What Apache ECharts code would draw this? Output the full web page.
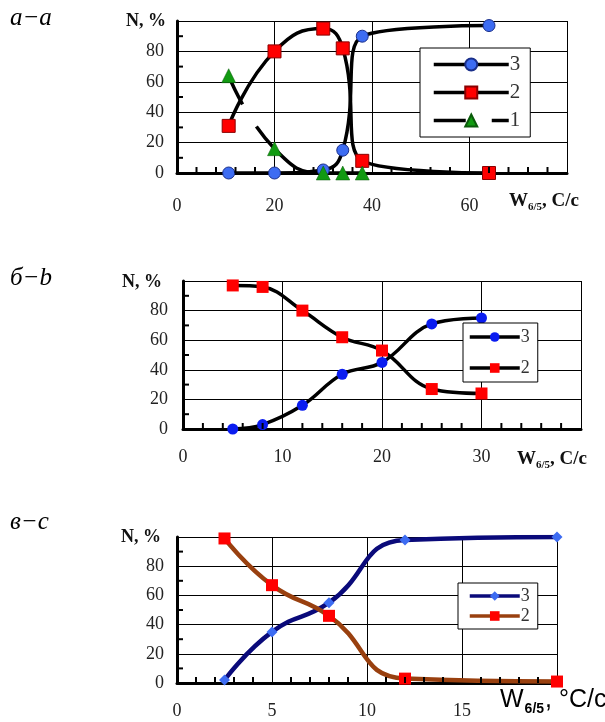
<!DOCTYPE html>
<html>
<head>
<meta charset="utf-8">
<script src="https://cdn.jsdelivr.net/npm/echarts@6/dist/echarts.min.js"></script>
<style>
html, body { margin: 0; padding: 0; background: #fff; }
#chart { width: 605px; height: 722px; }
</style>
</head>
<body>
<div id="chart"></div>
<script>
// panel a (а−a)
var aX = [10.6, 20, 30, 34, 38, 64]
var aY3 = [0, 0, 2, 15, 90, 97]
var aY2 = [31, 80, 95, 82, 8, 0]
var aX1 = [10.6, 20, 30, 34, 38]
var aY1 = [64, 16, 0, 0, 0]
// panel b (б−b)
var bX = [5, 8, 12, 16, 20, 25, 30]
var bY3 = [0, 3, 16, 37, 45, 71, 75]
var bY2 = [97, 96, 80, 62, 53, 27, 24]
// panel c (в−c)
var cX = [2.5, 5, 8, 12, 20]
var cY3 = [2, 35, 55, 98, 100]
var cY2 = [99, 67, 46, 3, 1]
// small inner tick positions
var aTickX = [4, 8, 12, 16, 24, 28, 32, 36, 44, 48, 52, 56, 64, 68, 72, 76]
var bTickX = [2, 4, 6, 8, 12, 14, 16, 18, 22, 24, 26, 28, 32, 34, 36, 38]
var cTickX = [1, 2, 3, 4, 6, 7, 8, 9, 11, 12, 13, 14, 16, 17, 18, 19]
var tickY = [10, 30, 50, 70, 90]

var SERIF = '"Liberation Serif", "DejaVu Serif", serif'

function zip (xs, ys) {
  var out = []
  for (var i = 0; i < ys.length; i++) out.push([xs[i], ys[i]])
  return out
}

function xAxisOf (idx, max, interval, margin) {
  return {
    type: 'value', gridIndex: idx, min: 0, max: max, interval: interval,
    axisLine: { show: true, onZero: false, lineStyle: { color: '#000', width: 3 } },
    axisTick: { show: false },
    splitLine: { show: true, lineStyle: { color: '#000', width: 1 } },
    axisLabel: { margin: margin, showMaxLabel: false, color: '#222', fontFamily: SERIF, fontSize: 18 }
  }
}

function yAxisOf (idx, margin) {
  return {
    type: 'value', gridIndex: idx, min: 0, max: 100, interval: 20,
    axisLine: { show: true, onZero: false, lineStyle: { color: '#000', width: 3 } },
    axisTick: { show: false },
    splitLine: { show: true, lineStyle: { color: '#000', width: 1 } },
    axisLabel: { margin: margin, showMaxLabel: false, color: '#222', fontFamily: SERIF, fontSize: 18 }
  }
}

// short inner ticks drawn through the axis scales
function tickSeries (idx, xTicks, yTicks) {
  var data = []
  xTicks.forEach(function (v) { data.push([v, 0, 0]) })
  yTicks.forEach(function (v) { data.push([0, v, 1]) })
  return {
    type: 'custom', xAxisIndex: idx, yAxisIndex: idx, silent: true, z: 5,
    clip: false, data: data,
    encode: { x: 0, y: 1 },
    renderItem: function (params, api) {
      var p = api.coord([api.value(0), api.value(1)])
      var vertical = api.value(2) === 0
      return {
        type: 'line',
        shape: vertical
          ? { x1: p[0], y1: p[1], x2: p[0], y2: p[1] - 6 }
          : { x1: p[0], y1: p[1], x2: p[0] + 6, y2: p[1] },
        style: { stroke: '#000', lineWidth: 2 }
      }
    }
  }
}

function legendOf (names, left, top, itemWidth, itemHeight, gap, padding, fontSize) {
  return {
    orient: 'vertical', left: left, top: top, data: names,
    itemWidth: itemWidth, itemHeight: itemHeight, itemGap: gap, padding: padding,
    borderColor: '#000', borderWidth: 1, borderRadius: 0, backgroundColor: '#fff',
    selectedMode: false,
    lineStyle: { width: 3.5 },
    formatter: function (name) { return name.slice(1) },
    textStyle: { fontFamily: SERIF, fontSize: fontSize, color: '#333', padding: [0, 0, 0, -4] }
  }
}

function axisName (left, top, sans) {
  if (sans) {
    return {
      type: 'text', left: left, top: top,
      style: {
        text: '{w|W}{s|6/5}{w|, °C/c}',
        rich: {
          w: { font: '25px "Liberation Sans", Arial, sans-serif', fill: '#000', verticalAlign: 'bottom' },
          s: { font: 'bold 14px "Liberation Sans", Arial, sans-serif', fill: '#000', verticalAlign: 'bottom', padding: [0, 1, -3, 1] }
        }
      }
    }
  }
  return {
    type: 'text', left: left, top: top,
    style: {
      text: '{w|W}{s|6/5}{w|, C/c}',
      rich: {
        w: { font: 'bold 19px ' + SERIF, fill: '#111', verticalAlign: 'bottom' },
        s: { font: 'bold 11px ' + SERIF, fill: '#111', verticalAlign: 'bottom', padding: [0, 0, -2, 0] }
      }
    }
  }
}

var chart = echarts.init(document.getElementById('chart'), null, { renderer: 'canvas' })
chart.setOption({
  animation: false,
  backgroundColor: '#fff',
  grid: [
    { left: 177, top: 21, width: 390, height: 152 },
    { left: 183, top: 281, width: 398, height: 148 },
    { left: 177, top: 537, width: 380, height: 146 }
  ],
  xAxis: [
    xAxisOf(0, 80, 20, 24),
    xAxisOf(1, 40, 10, 19),
    xAxisOf(2, 20, 5, 19)
  ],
  yAxis: [yAxisOf(0, 13), yAxisOf(1, 15), yAxisOf(2, 13)],
  legend: [
    legendOf(['a3', 'a2', 'a1'], 420, 48, 75, 15, 7, [6, 10, 6, 12], 21),
    legendOf(['b3', 'b2'], 463, 323, 50, 12, 13, [5, 8, 5, 5], 18),
    legendOf(['c3', 'c2'], 458, 583, 50, 12, 2, [4, 8, 4, 10], 18)
  ],
  graphic: [
    { type: 'text', left: 10, top: 6, style: { text: 'а−a', font: 'italic 25px ' + SERIF, fill: '#000' } },
    { type: 'text', left: 10, top: 266, style: { text: 'б−b', font: 'italic 25px ' + SERIF, fill: '#000' } },
    { type: 'text', left: 10, top: 510, style: { text: 'в−c', font: 'italic 25px ' + SERIF, fill: '#000' } },
    { type: 'text', left: 126, top: 12, style: { text: 'N, %', font: 'bold 18px ' + SERIF, fill: '#111' } },
    { type: 'text', left: 122, top: 273, style: { text: 'N, %', font: 'bold 18px ' + SERIF, fill: '#111' } },
    { type: 'text', left: 121, top: 528, style: { text: 'N, %', font: 'bold 18px ' + SERIF, fill: '#111' } },
    axisName(509, 192, false),
    axisName(517, 450, false),
    axisName(500, 688, true)
  ],
  series: [
    tickSeries(0, aTickX, tickY),
    tickSeries(1, bTickX, tickY),
    tickSeries(2, cTickX, tickY),
    {
      name: 'a3', type: 'line', xAxisIndex: 0, yAxisIndex: 0, smooth: 0.5,
      data: zip(aX, aY3), symbol: 'circle', symbolSize: 12,
      lineStyle: { color: '#000', width: 3.5 },
      itemStyle: { color: '#3d6cf2', borderColor: '#1a2f8a', borderWidth: 1 }
    },
    {
      name: 'a2', type: 'line', xAxisIndex: 0, yAxisIndex: 0, smooth: 0.5,
      data: zip(aX, aY2), symbol: 'rect', symbolSize: 13,
      lineStyle: { color: '#000', width: 3.5 },
      itemStyle: { color: '#f00', borderColor: '#8a0000', borderWidth: 1 }
    },
    {
      name: 'a1', type: 'line', xAxisIndex: 0, yAxisIndex: 0, smooth: 0.5,
      data: zip(aX1, aY1), symbol: 'triangle', symbolSize: 14,
      lineStyle: { color: '#000', width: 3.5, type: [32, 26, 300, 10] },
      itemStyle: { color: '#119a11', borderColor: '#0a5a0a', borderWidth: 0.5 }
    },
    {
      name: 'b3', type: 'line', xAxisIndex: 1, yAxisIndex: 1, smooth: 0.4,
      data: zip(bX, bY3), symbol: 'circle', symbolSize: 11,
      lineStyle: { color: '#000', width: 3.5 },
      itemStyle: { color: '#0a1cf0' }
    },
    {
      name: 'b2', type: 'line', xAxisIndex: 1, yAxisIndex: 1, smooth: 0.4,
      data: zip(bX, bY2), symbol: 'rect', symbolSize: 12,
      lineStyle: { color: '#000', width: 3.5 },
      itemStyle: { color: '#f00' }
    },
    {
      name: 'c3', type: 'line', xAxisIndex: 2, yAxisIndex: 2, smooth: 0.5,
      data: zip(cX, cY3), symbol: 'diamond', symbolSize: 11,
      lineStyle: { color: '#0a0a7a', width: 4.5 },
      itemStyle: { color: '#3d6cf2' }
    },
    {
      name: 'c2', type: 'line', xAxisIndex: 2, yAxisIndex: 2, smooth: 0.5,
      data: zip(cX, cY2), symbol: 'rect', symbolSize: 12,
      lineStyle: { color: '#99400f', width: 4.5 },
      itemStyle: { color: '#f00' }
    }
  ]
})
</script>
</body>
</html>
